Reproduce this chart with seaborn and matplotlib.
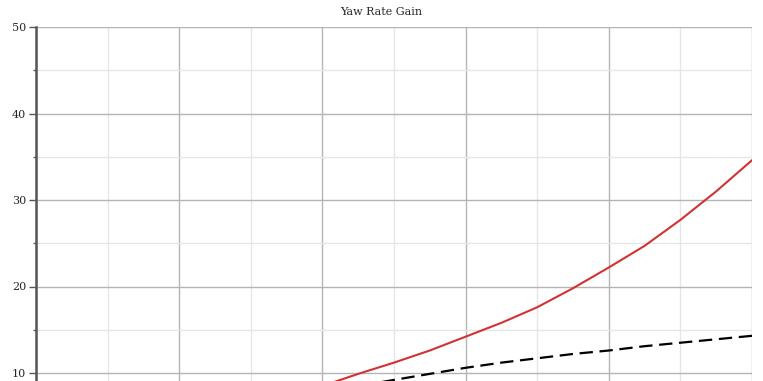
import numpy as np
import pandas as pd
import matplotlib
matplotlib.use("Agg")
import matplotlib.pyplot as plt
from matplotlib.ticker import MultipleLocator
import seaborn as sns

# Werte
speed = [40, 45, 50, 55, 60, 65, 70, 75, 80, 85, 90, 95, 100]
gain_red = [8.5, 9.9, 11.2, 12.6, 14.2, 15.8, 17.6, 19.8, 22.2, 24.7, 27.7, 31.0, 34.6]
gain_ref = [7.6, 8.5, 9.2, 9.9, 10.6, 11.2, 11.7, 12.2, 12.6, 13.1, 13.5, 13.9, 14.3]

title = "Yaw Rate Gain"

sns.set_style("white")
plt.rcParams['font.family'] = ['DejaVu Serif']

df = pd.DataFrame({"speed": speed, "red": gain_red, "ref": gain_ref})

fig = plt.figure(figsize=(7.63, 3.81), dpi=100)
ax = fig.add_axes([36/763, (381-459.5)/381, (752-36)/763, 432.5/381])

sns.lineplot(data=df, x="speed", y="red", ax=ax, color="#d23232", linewidth=1.5)
sns.lineplot(data=df, x="speed", y="ref", ax=ax, color="black", linewidth=1.6,
             dashes=False, linestyle=(0, (6, 3)))

ax.set_xlim(0, 100)
ax.set_ylim(0, 50)
ax.xaxis.set_major_locator(MultipleLocator(20))
ax.xaxis.set_minor_locator(MultipleLocator(10))
ax.yaxis.set_major_locator(MultipleLocator(10))
ax.yaxis.set_minor_locator(MultipleLocator(5))
ax.grid(which="major", color="#b4b4b4", linewidth=1)
ax.grid(which="minor", color="#e6e6e6", linewidth=1)
ax.set_axisbelow(True)

for s in ["top", "right", "bottom"]:
    ax.spines[s].set_visible(False)
ax.spines["left"].set_color("#555555")
ax.spines["left"].set_linewidth(1.8)

ax.tick_params(axis="y", which="major", left=True, length=5, width=1, color="#555555",
               labelsize=8, pad=2)
ax.tick_params(axis="y", which="minor", left=True, length=2, width=1, color="#555555")
ax.tick_params(axis="x", which="both", bottom=False, labelbottom=False)
ax.set_xlabel("")
ax.set_ylabel("")

fig.text(0.5, 1 - 12/381, title, ha="center", va="center", fontsize=8)

fig.savefig("out.png", dpi=100)
